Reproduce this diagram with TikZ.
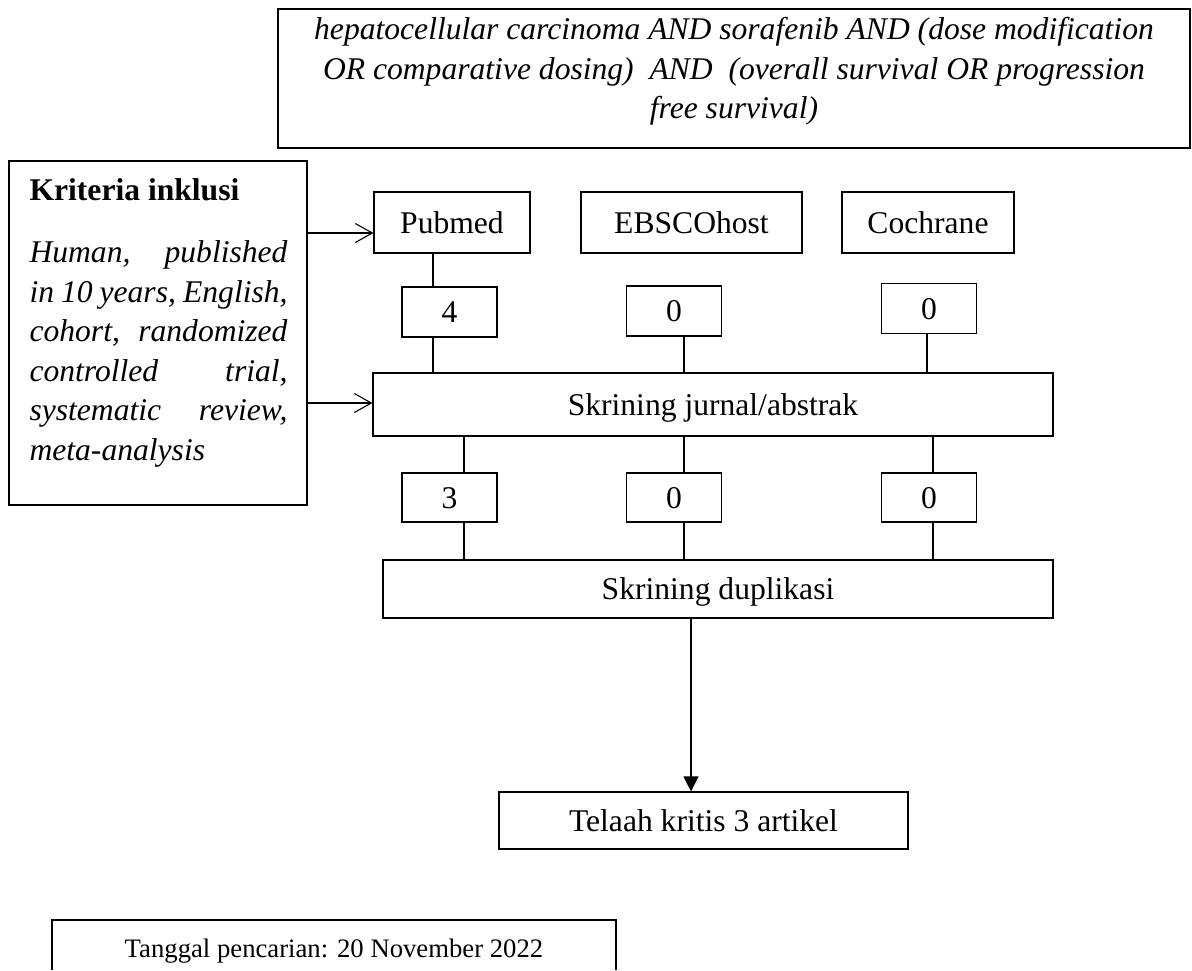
\documentclass[tikz,border=0pt]{standalone}
\usepackage{fontspec}
\setmainfont{Liberation Serif}
\usetikzlibrary{arrows.meta}

\begin{document}
\begin{tikzpicture}[x=1pt,y=-1pt,line width=1.1pt,font=\fontsize{31.6}{39.5}\selectfont]
  \tikzstyle{box}=[draw,rectangle,inner sep=0pt,text height=21pt,text depth=0pt]
  \tikzstyle{num}=[box,minimum width=95pt,minimum height=50pt]
  \tikzstyle{barb}=[-{Straight Barb[length=17pt,width=19pt]}]
  \tikzstyle{tip}=[-{Triangle[length=15pt,width=15pt]}]
  \useasboundingbox (0,0) rectangle (1192,970);

  % search string
  \node[draw,minimum width=912pt,minimum height=139pt] (qbox) at (734,78.5) {};
  \node[anchor=north,align=center,inner sep=0pt,font=\fontsize{31.6}{39.5}\selectfont\itshape] (qtxt) at (734,17)
    {hepatocellular carcinoma AND sorafenib AND (dose modification\\
     OR comparative dosing)~ AND~ (overall survival OR progression\\
     free survival)};

  % inclusion criteria
  \node[draw,minimum width=298pt,minimum height=344pt] (krit) at (158,333) {};
  \node[anchor=base west,inner sep=0pt,font=\fontsize{31.6}{39.5}\selectfont\bfseries] (kttl) at (29,200) {Kriteria inklusi};
  \node[anchor=north west,align=left,inner sep=0pt,font=\fontsize{31.6}{39.5}\selectfont\itshape] (ktxt) at (29,240.5)
    {\makebox[258pt][s]{Human, published}\\
     \makebox[258pt][s]{in 10 years, English,}\\
     \makebox[258pt][s]{cohort, randomized}\\
     \makebox[258pt][s]{controlled trial,}\\
     \makebox[258pt][s]{systematic review,}\\
     meta-analysis};

  % databases
  \node[box,minimum width=156pt,minimum height=61pt] (pub) at (452,222.5) {Pubmed};
  \node[box,minimum width=221pt,minimum height=61pt] (ebs) at (691.5,222.5) {EBSCOhost};
  \node[box,minimum width=172pt,minimum height=61pt] (coc) at (928,222.5) {Cochrane};

  \node[num] (n1a) at (449.5,312) {4};
  \node[num] (n2a) at (674,311) {0};
  \node[num] (n3a) at (929,308.5) {0};

  \node[box,minimum width=680pt,minimum height=63pt] (scrj) at (713,404.5) {Skrining jurnal/abstrak};

  \node[num,minimum height=49pt] (n1b) at (449.5,497.5) {3};
  \node[num,minimum height=49pt] (n2b) at (674,497.5) {0};
  \node[num,minimum height=49pt] (n3b) at (929,497.5) {0};

  \node[box,minimum width=670pt,minimum height=58pt] (scrd) at (718,589) {Skrining duplikasi};
  \node[box,minimum width=409pt,minimum height=57pt] (tela) at (703.5,820.5) {Telaah kritis 3 artikel};

  % search date
  \node[anchor=base,inner sep=0pt,font=\fontsize{26.7}{32}\selectfont] (tgl) at (334,957) {Tanggal pencarian: 20 November 2022};
  \draw (52,970) |- (616,920) -- (616,970);

  % connectors
  \draw[barb] (krit.east |- 0,233) -- (pub.west |- 0,233);
  \draw[barb] (krit.east |- 0,403) -- (scrj.west |- 0,403);
  \draw (pub.south -| 433,0) -- (n1a.north -| 433,0);
  \draw (n1a.south -| 433,0) -- (scrj.north -| 433,0);
  \draw (n2a.south -| 684,0) -- (scrj.north -| 684,0);
  \draw (n3a.south -| 927,0) -- (scrj.north -| 927,0);
  \draw (scrj.south -| 464,0) -- (n1b.north -| 464,0);
  \draw (scrj.south -| 684,0) -- (n2b.north -| 684,0);
  \draw (scrj.south -| 933,0) -- (n3b.north -| 933,0);
  \draw (n1b.south -| 464,0) -- (scrd.north -| 464,0);
  \draw (n2b.south -| 684,0) -- (scrd.north -| 684,0);
  \draw (n3b.south -| 933,0) -- (scrd.north -| 933,0);
  \draw[tip] (scrd.south -| 691,0) -- (tela.north -| 691,0);
\end{tikzpicture}
\end{document}
